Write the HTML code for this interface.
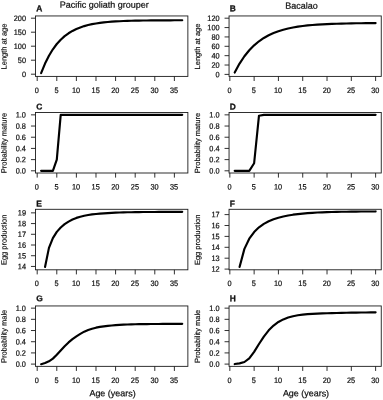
<!DOCTYPE html>
<html><head><meta charset="utf-8"><title>Figure</title>
<style>
html,body{margin:0;padding:0;background:#fff;}
svg{display:block;}
text{font-family:"Liberation Sans",sans-serif;fill:#111;stroke:#111;stroke-width:0.22px;text-rendering:geometricPrecision;}
.tk text{font-size:7.9px;}
.yl{font-size:7.5px;stroke-width:0.18px;}
.xl{font-size:8.95px;}
.tt{font-size:9px;}
.lt{font-size:8.4px;font-weight:bold;stroke-width:0.3px;}
</style></head><body>
<svg width="383" height="400" viewBox="0 0 383 400">
<rect width="383" height="400" fill="#fff"/>
<text class="tt" transform="translate(59.7 7.65) rotate(0.1)">Pacific goliath grouper</text>
<text class="tt" transform="translate(285.35 8.7) rotate(0.1)">Bacalao</text>
<g>
<rect x="35.47" y="15.95" width="152.4" height="60.45" fill="none" stroke="#1a1a1a" stroke-width="0.9"/>
<path d="M37.19 76.4v4.6M56.79 76.4v4.6M76.39 76.4v4.6M95.99 76.4v4.6M115.59 76.4v4.6M135.19 76.4v4.6M154.79 76.4v4.6M174.39 76.4v4.6M35.47 74.2h-4.5M35.47 60.2h-4.5M35.47 46.2h-4.5M35.47 32.2h-4.5M35.47 18.2h-4.5" stroke="#1a1a1a" stroke-width="0.9" fill="none"/>
<g class="tk" text-anchor="middle">
<text transform="translate(36.89 93) rotate(0.1) scale(0.93 1)">0</text>
<text transform="translate(56.49 93) rotate(0.1) scale(0.93 1)">5</text>
<text transform="translate(76.09 93) rotate(0.1) scale(0.93 1)">10</text>
<text transform="translate(95.69 93) rotate(0.1) scale(0.93 1)">15</text>
<text transform="translate(115.29 93) rotate(0.1) scale(0.93 1)">20</text>
<text transform="translate(134.89 93) rotate(0.1) scale(0.93 1)">25</text>
<text transform="translate(154.49 93) rotate(0.1) scale(0.93 1)">30</text>
<text transform="translate(174.09 93) rotate(0.1) scale(0.93 1)">35</text>
</g>
<g class="tk" text-anchor="end">
<text transform="translate(25.97 76.95) rotate(0.1) scale(0.93 1)">0</text>
<text transform="translate(25.97 62.95) rotate(0.1) scale(0.93 1)">50</text>
<text transform="translate(25.97 48.95) rotate(0.1) scale(0.93 1)">100</text>
<text transform="translate(25.97 34.95) rotate(0.1) scale(0.93 1)">150</text>
<text transform="translate(25.97 20.95) rotate(0.1) scale(0.93 1)">200</text>
</g>
<text class="lt" transform="translate(36.27 11.3) rotate(0.1)">A</text>
<text class="yl" transform="translate(6.47 46.48) rotate(-89.9)" text-anchor="middle">Length at age</text>
<path d="M41.11 73.13 L45.03 63.54 L48.95 55.7 L52.87 49.27 L56.79 44.01 L60.71 39.7 L64.63 36.17 L68.55 33.29 L72.47 30.92 L76.39 28.99 L80.31 27.4 L84.23 26.1 L88.15 25.04 L92.07 24.17 L95.99 23.46 L99.91 22.88 L103.83 22.4 L107.75 22.01 L111.67 21.69 L115.59 21.43 L119.51 21.21 L123.43 21.04 L127.35 20.89 L131.27 20.78 L135.19 20.68 L139.11 20.6 L143.03 20.54 L146.95 20.48 L150.87 20.44 L154.79 20.4 L158.71 20.38 L162.63 20.35 L166.55 20.33 L170.47 20.32 L174.39 20.3 L178.31 20.29 L182.23 20.28" stroke="#000" stroke-width="2.15" fill="none" stroke-linecap="round" stroke-linejoin="round"/>
</g>
<g>
<rect x="229.05" y="15.95" width="152.2" height="60.45" fill="none" stroke="#1a1a1a" stroke-width="0.9"/>
<path d="M229.83 76.4v4.6M254.13 76.4v4.6M278.42 76.4v4.6M302.72 76.4v4.6M327.02 76.4v4.6M351.32 76.4v4.6M375.61 76.4v4.6M229.05 74.4h-4.5M229.05 65.03h-4.5M229.05 55.67h-4.5M229.05 46.3h-4.5M229.05 36.93h-4.5M229.05 27.57h-4.5M229.05 18.2h-4.5" stroke="#1a1a1a" stroke-width="0.9" fill="none"/>
<g class="tk" text-anchor="middle">
<text transform="translate(229.53 93) rotate(0.1) scale(0.93 1)">0</text>
<text transform="translate(253.83 93) rotate(0.1) scale(0.93 1)">5</text>
<text transform="translate(278.12 93) rotate(0.1) scale(0.93 1)">10</text>
<text transform="translate(302.42 93) rotate(0.1) scale(0.93 1)">15</text>
<text transform="translate(326.72 93) rotate(0.1) scale(0.93 1)">20</text>
<text transform="translate(351.02 93) rotate(0.1) scale(0.93 1)">25</text>
<text transform="translate(375.31 93) rotate(0.1) scale(0.93 1)">30</text>
</g>
<g class="tk" text-anchor="end">
<text transform="translate(219.55 77.15) rotate(0.1) scale(0.93 1)">0</text>
<text transform="translate(219.55 67.78) rotate(0.1) scale(0.93 1)">20</text>
<text transform="translate(219.55 58.42) rotate(0.1) scale(0.93 1)">40</text>
<text transform="translate(219.55 49.05) rotate(0.1) scale(0.93 1)">60</text>
<text transform="translate(219.55 39.68) rotate(0.1) scale(0.93 1)">80</text>
<text transform="translate(219.55 30.32) rotate(0.1) scale(0.93 1)">100</text>
<text transform="translate(219.55 20.95) rotate(0.1) scale(0.93 1)">120</text>
</g>
<text class="lt" transform="translate(229.85 11.3) rotate(0.1)">B</text>
<text class="yl" transform="translate(200.05 46.48) rotate(-89.9)" text-anchor="middle">Length at age</text>
<path d="M234.69 72.57 L239.55 63.61 L244.41 56.26 L249.27 50.24 L254.13 45.31 L258.98 41.27 L263.84 37.96 L268.7 35.25 L273.56 33.02 L278.42 31.2 L283.28 29.71 L288.14 28.49 L293 27.49 L297.86 26.66 L302.72 25.99 L307.58 25.44 L312.44 24.99 L317.3 24.62 L322.16 24.32 L327.02 24.07 L331.88 23.86 L336.74 23.7 L341.6 23.56 L346.46 23.45 L351.32 23.36 L356.17 23.28 L361.03 23.22 L365.89 23.17 L370.75 23.13 L375.61 23.09" stroke="#000" stroke-width="2.15" fill="none" stroke-linecap="round" stroke-linejoin="round"/>
</g>
<g>
<rect x="35.47" y="112.5" width="152.4" height="60.5" fill="none" stroke="#1a1a1a" stroke-width="0.9"/>
<path d="M37.19 173v4.6M56.79 173v4.6M76.39 173v4.6M95.99 173v4.6M115.59 173v4.6M135.19 173v4.6M154.79 173v4.6M174.39 173v4.6M35.47 170.8h-4.5M35.47 159.61h-4.5M35.47 148.42h-4.5M35.47 137.23h-4.5M35.47 126.04h-4.5M35.47 114.85h-4.5" stroke="#1a1a1a" stroke-width="0.9" fill="none"/>
<g class="tk" text-anchor="middle">
<text transform="translate(36.89 189.6) rotate(0.1) scale(0.93 1)">0</text>
<text transform="translate(56.49 189.6) rotate(0.1) scale(0.93 1)">5</text>
<text transform="translate(76.09 189.6) rotate(0.1) scale(0.93 1)">10</text>
<text transform="translate(95.69 189.6) rotate(0.1) scale(0.93 1)">15</text>
<text transform="translate(115.29 189.6) rotate(0.1) scale(0.93 1)">20</text>
<text transform="translate(134.89 189.6) rotate(0.1) scale(0.93 1)">25</text>
<text transform="translate(154.49 189.6) rotate(0.1) scale(0.93 1)">30</text>
<text transform="translate(174.09 189.6) rotate(0.1) scale(0.93 1)">35</text>
</g>
<g class="tk" text-anchor="end">
<text transform="translate(25.97 173.55) rotate(0.1) scale(0.93 1)">0.0</text>
<text transform="translate(25.97 162.36) rotate(0.1) scale(0.93 1)">0.2</text>
<text transform="translate(25.97 151.17) rotate(0.1) scale(0.93 1)">0.4</text>
<text transform="translate(25.97 139.98) rotate(0.1) scale(0.93 1)">0.6</text>
<text transform="translate(25.97 128.79) rotate(0.1) scale(0.93 1)">0.8</text>
<text transform="translate(25.97 117.6) rotate(0.1) scale(0.93 1)">1.0</text>
</g>
<text class="lt" transform="translate(36.27 109.6) rotate(0.1)">C</text>
<text class="yl" transform="translate(6.47 143.05) rotate(-89.9)" text-anchor="middle">Probability mature</text>
<path d="M41.11 170.8 L52.87 170.8 L56.79 159.61 L60.71 114.85 L182.23 114.85" stroke="#000" stroke-width="2.15" fill="none" stroke-linecap="round" stroke-linejoin="round"/>
</g>
<g>
<rect x="229.05" y="112.5" width="152.2" height="60.5" fill="none" stroke="#1a1a1a" stroke-width="0.9"/>
<path d="M229.83 173v4.6M254.13 173v4.6M278.42 173v4.6M302.72 173v4.6M327.02 173v4.6M351.32 173v4.6M375.61 173v4.6M229.05 170.8h-4.5M229.05 159.61h-4.5M229.05 148.42h-4.5M229.05 137.23h-4.5M229.05 126.04h-4.5M229.05 114.85h-4.5" stroke="#1a1a1a" stroke-width="0.9" fill="none"/>
<g class="tk" text-anchor="middle">
<text transform="translate(229.53 189.6) rotate(0.1) scale(0.93 1)">0</text>
<text transform="translate(253.83 189.6) rotate(0.1) scale(0.93 1)">5</text>
<text transform="translate(278.12 189.6) rotate(0.1) scale(0.93 1)">10</text>
<text transform="translate(302.42 189.6) rotate(0.1) scale(0.93 1)">15</text>
<text transform="translate(326.72 189.6) rotate(0.1) scale(0.93 1)">20</text>
<text transform="translate(351.02 189.6) rotate(0.1) scale(0.93 1)">25</text>
<text transform="translate(375.31 189.6) rotate(0.1) scale(0.93 1)">30</text>
</g>
<g class="tk" text-anchor="end">
<text transform="translate(219.55 173.55) rotate(0.1) scale(0.93 1)">0.0</text>
<text transform="translate(219.55 162.36) rotate(0.1) scale(0.93 1)">0.2</text>
<text transform="translate(219.55 151.17) rotate(0.1) scale(0.93 1)">0.4</text>
<text transform="translate(219.55 139.98) rotate(0.1) scale(0.93 1)">0.6</text>
<text transform="translate(219.55 128.79) rotate(0.1) scale(0.93 1)">0.8</text>
<text transform="translate(219.55 117.6) rotate(0.1) scale(0.93 1)">1.0</text>
</g>
<text class="lt" transform="translate(229.85 109.6) rotate(0.1)">D</text>
<text class="yl" transform="translate(200.05 143.05) rotate(-89.9)" text-anchor="middle">Probability mature</text>
<path d="M234.69 170.8 L249.27 170.8 L254.13 163.25 L258.98 115.69 L263.84 114.85 L375.61 114.85" stroke="#000" stroke-width="2.15" fill="none" stroke-linecap="round" stroke-linejoin="round"/>
</g>
<g>
<rect x="35.47" y="209.3" width="152.4" height="60.5" fill="none" stroke="#1a1a1a" stroke-width="0.9"/>
<path d="M37.19 269.8v4.6M56.79 269.8v4.6M76.39 269.8v4.6M95.99 269.8v4.6M115.59 269.8v4.6M135.19 269.8v4.6M154.79 269.8v4.6M174.39 269.8v4.6M35.47 266.45h-4.5M35.47 255.73h-4.5M35.47 245.01h-4.5M35.47 234.29h-4.5M35.47 223.57h-4.5M35.47 212.85h-4.5" stroke="#1a1a1a" stroke-width="0.9" fill="none"/>
<g class="tk" text-anchor="middle">
<text transform="translate(36.89 286) rotate(0.1) scale(0.93 1)">0</text>
<text transform="translate(56.49 286) rotate(0.1) scale(0.93 1)">5</text>
<text transform="translate(76.09 286) rotate(0.1) scale(0.93 1)">10</text>
<text transform="translate(95.69 286) rotate(0.1) scale(0.93 1)">15</text>
<text transform="translate(115.29 286) rotate(0.1) scale(0.93 1)">20</text>
<text transform="translate(134.89 286) rotate(0.1) scale(0.93 1)">25</text>
<text transform="translate(154.49 286) rotate(0.1) scale(0.93 1)">30</text>
<text transform="translate(174.09 286) rotate(0.1) scale(0.93 1)">35</text>
</g>
<g class="tk" text-anchor="end">
<text transform="translate(25.97 269.2) rotate(0.1) scale(0.93 1)">14</text>
<text transform="translate(25.97 258.48) rotate(0.1) scale(0.93 1)">15</text>
<text transform="translate(25.97 247.76) rotate(0.1) scale(0.93 1)">16</text>
<text transform="translate(25.97 237.04) rotate(0.1) scale(0.93 1)">17</text>
<text transform="translate(25.97 226.32) rotate(0.1) scale(0.93 1)">18</text>
<text transform="translate(25.97 215.6) rotate(0.1) scale(0.93 1)">19</text>
</g>
<text class="lt" transform="translate(36.27 206.4) rotate(0.1)">E</text>
<text class="yl" transform="translate(6.47 239.85) rotate(-89.9)" text-anchor="middle">Egg production</text>
<path d="M45.03 266.91 L48.95 247.89 L52.87 238.13 L56.79 231.87 L60.71 227.48 L64.63 224.17 L68.55 221.58 L72.47 219.51 L76.39 217.9 L80.31 216.71 L84.23 215.76 L88.15 215 L92.07 214.4 L95.99 213.95 L99.91 213.6 L103.83 213.31 L107.75 213.06 L111.67 212.84 L115.59 212.67 L119.51 212.52 L123.43 212.4 L127.35 212.3 L131.27 212.22 L135.19 212.15 L139.11 212.1 L143.03 212.05 L146.95 212.02 L150.87 211.99 L154.79 211.96 L158.71 211.94 L162.63 211.92 L166.55 211.91 L170.47 211.9 L174.39 211.89 L178.31 211.88 L182.23 211.87" stroke="#000" stroke-width="2.15" fill="none" stroke-linecap="round" stroke-linejoin="round"/>
</g>
<g>
<rect x="229.05" y="209.3" width="152.2" height="60.5" fill="none" stroke="#1a1a1a" stroke-width="0.9"/>
<path d="M229.83 269.8v4.6M254.13 269.8v4.6M278.42 269.8v4.6M302.72 269.8v4.6M327.02 269.8v4.6M351.32 269.8v4.6M375.61 269.8v4.6M229.05 269.1h-4.5M229.05 258.2h-4.5M229.05 247.3h-4.5M229.05 236.4h-4.5M229.05 225.5h-4.5M229.05 214.6h-4.5" stroke="#1a1a1a" stroke-width="0.9" fill="none"/>
<g class="tk" text-anchor="middle">
<text transform="translate(229.53 286) rotate(0.1) scale(0.93 1)">0</text>
<text transform="translate(253.83 286) rotate(0.1) scale(0.93 1)">5</text>
<text transform="translate(278.12 286) rotate(0.1) scale(0.93 1)">10</text>
<text transform="translate(302.42 286) rotate(0.1) scale(0.93 1)">15</text>
<text transform="translate(326.72 286) rotate(0.1) scale(0.93 1)">20</text>
<text transform="translate(351.02 286) rotate(0.1) scale(0.93 1)">25</text>
<text transform="translate(375.31 286) rotate(0.1) scale(0.93 1)">30</text>
</g>
<g class="tk" text-anchor="end">
<text transform="translate(219.55 271.85) rotate(0.1) scale(0.93 1)">12</text>
<text transform="translate(219.55 260.95) rotate(0.1) scale(0.93 1)">13</text>
<text transform="translate(219.55 250.05) rotate(0.1) scale(0.93 1)">14</text>
<text transform="translate(219.55 239.15) rotate(0.1) scale(0.93 1)">15</text>
<text transform="translate(219.55 228.25) rotate(0.1) scale(0.93 1)">16</text>
<text transform="translate(219.55 217.35) rotate(0.1) scale(0.93 1)">17</text>
</g>
<text class="lt" transform="translate(229.85 206.4) rotate(0.1)">F</text>
<text class="yl" transform="translate(200.05 239.85) rotate(-89.9)" text-anchor="middle">Egg production</text>
<path d="M239.55 266.97 L244.41 248.9 L249.27 238.7 L254.13 232.02 L258.98 227.32 L263.84 223.87 L268.7 221.27 L273.56 219.26 L278.42 217.7 L283.28 216.46 L288.14 215.48 L293 214.69 L297.86 214.06 L302.72 213.56 L307.58 213.14 L312.44 212.81 L317.3 212.54 L322.16 212.32 L327.02 212.14 L331.88 211.99 L336.74 211.88 L341.6 211.78 L346.46 211.7 L351.32 211.63 L356.17 211.58 L361.03 211.54 L365.89 211.5 L370.75 211.47 L375.61 211.45" stroke="#000" stroke-width="2.15" fill="none" stroke-linecap="round" stroke-linejoin="round"/>
</g>
<g>
<rect x="35.47" y="305.95" width="152.4" height="60.4" fill="none" stroke="#1a1a1a" stroke-width="0.9"/>
<path d="M37.19 366.35v4.6M56.79 366.35v4.6M76.39 366.35v4.6M95.99 366.35v4.6M115.59 366.35v4.6M135.19 366.35v4.6M154.79 366.35v4.6M174.39 366.35v4.6M35.47 364.1h-4.5M35.47 352.91h-4.5M35.47 341.72h-4.5M35.47 330.53h-4.5M35.47 319.34h-4.5M35.47 308.15h-4.5" stroke="#1a1a1a" stroke-width="0.9" fill="none"/>
<g class="tk" text-anchor="middle">
<text transform="translate(36.89 382.95) rotate(0.1) scale(0.93 1)">0</text>
<text transform="translate(56.49 382.95) rotate(0.1) scale(0.93 1)">5</text>
<text transform="translate(76.09 382.95) rotate(0.1) scale(0.93 1)">10</text>
<text transform="translate(95.69 382.95) rotate(0.1) scale(0.93 1)">15</text>
<text transform="translate(115.29 382.95) rotate(0.1) scale(0.93 1)">20</text>
<text transform="translate(134.89 382.95) rotate(0.1) scale(0.93 1)">25</text>
<text transform="translate(154.49 382.95) rotate(0.1) scale(0.93 1)">30</text>
<text transform="translate(174.09 382.95) rotate(0.1) scale(0.93 1)">35</text>
</g>
<g class="tk" text-anchor="end">
<text transform="translate(25.97 366.85) rotate(0.1) scale(0.93 1)">0.0</text>
<text transform="translate(25.97 355.66) rotate(0.1) scale(0.93 1)">0.2</text>
<text transform="translate(25.97 344.47) rotate(0.1) scale(0.93 1)">0.4</text>
<text transform="translate(25.97 333.28) rotate(0.1) scale(0.93 1)">0.6</text>
<text transform="translate(25.97 322.09) rotate(0.1) scale(0.93 1)">0.8</text>
<text transform="translate(25.97 310.9) rotate(0.1) scale(0.93 1)">1.0</text>
</g>
<text class="lt" transform="translate(36.27 301.3) rotate(0.1)">G</text>
<text class="yl" transform="translate(6.47 336.45) rotate(-89.9)" text-anchor="middle">Probability male</text>
<text class="xl" transform="translate(112.52 396.35) rotate(0.1)" text-anchor="middle">Age (years)</text>
<path d="M41.11 364.2 L45.03 363.03 L48.95 361.27 L52.87 358.62 L56.79 354.81 L60.71 350.53 L64.63 346.3 L68.55 342.45 L72.47 339.19 L76.39 336.37 L80.31 333.83 L84.23 331.64 L88.15 329.95 L92.07 328.67 L95.99 327.68 L99.91 326.92 L103.83 326.32 L107.75 325.83 L111.67 325.45 L115.59 325.13 L119.51 324.88 L123.43 324.68 L127.35 324.52 L131.27 324.39 L135.19 324.28 L139.11 324.19 L143.03 324.12 L146.95 324.07 L150.87 324.02 L154.79 323.98 L158.71 323.96 L162.63 323.93 L166.55 323.91 L170.47 323.9 L174.39 323.88 L178.31 323.87 L182.23 323.87" stroke="#000" stroke-width="2.15" fill="none" stroke-linecap="round" stroke-linejoin="round"/>
</g>
<g>
<rect x="229.05" y="305.95" width="152.2" height="60.4" fill="none" stroke="#1a1a1a" stroke-width="0.9"/>
<path d="M229.83 366.35v4.6M254.13 366.35v4.6M278.42 366.35v4.6M302.72 366.35v4.6M327.02 366.35v4.6M351.32 366.35v4.6M375.61 366.35v4.6M229.05 364.1h-4.5M229.05 352.91h-4.5M229.05 341.72h-4.5M229.05 330.53h-4.5M229.05 319.34h-4.5M229.05 308.15h-4.5" stroke="#1a1a1a" stroke-width="0.9" fill="none"/>
<g class="tk" text-anchor="middle">
<text transform="translate(229.53 382.95) rotate(0.1) scale(0.93 1)">0</text>
<text transform="translate(253.83 382.95) rotate(0.1) scale(0.93 1)">5</text>
<text transform="translate(278.12 382.95) rotate(0.1) scale(0.93 1)">10</text>
<text transform="translate(302.42 382.95) rotate(0.1) scale(0.93 1)">15</text>
<text transform="translate(326.72 382.95) rotate(0.1) scale(0.93 1)">20</text>
<text transform="translate(351.02 382.95) rotate(0.1) scale(0.93 1)">25</text>
<text transform="translate(375.31 382.95) rotate(0.1) scale(0.93 1)">30</text>
</g>
<g class="tk" text-anchor="end">
<text transform="translate(219.55 366.85) rotate(0.1) scale(0.93 1)">0.0</text>
<text transform="translate(219.55 355.66) rotate(0.1) scale(0.93 1)">0.2</text>
<text transform="translate(219.55 344.47) rotate(0.1) scale(0.93 1)">0.4</text>
<text transform="translate(219.55 333.28) rotate(0.1) scale(0.93 1)">0.6</text>
<text transform="translate(219.55 322.09) rotate(0.1) scale(0.93 1)">0.8</text>
<text transform="translate(219.55 310.9) rotate(0.1) scale(0.93 1)">1.0</text>
</g>
<text class="lt" transform="translate(229.85 301.3) rotate(0.1)">H</text>
<text class="yl" transform="translate(200.05 336.45) rotate(-89.9)" text-anchor="middle">Probability male</text>
<text class="xl" transform="translate(306 396.35) rotate(0.1)" text-anchor="middle">Age (years)</text>
<path d="M234.69 364.06 L239.55 363.35 L244.41 361.99 L249.27 358.32 L254.13 351.91 L258.98 343.99 L263.84 336.57 L268.7 330.36 L273.56 325.55 L278.42 321.99 L283.28 319.42 L288.14 317.56 L293 316.23 L297.86 315.26 L302.72 314.59 L307.58 314.15 L312.44 313.85 L317.3 313.61 L322.16 313.41 L327.02 313.23 L331.88 313.08 L336.74 312.96 L341.6 312.85 L346.46 312.75 L351.32 312.66 L356.17 312.58 L361.03 312.52 L365.89 312.46 L370.75 312.41 L375.61 312.37" stroke="#000" stroke-width="2.15" fill="none" stroke-linecap="round" stroke-linejoin="round"/>
</g>
</svg></body></html>
